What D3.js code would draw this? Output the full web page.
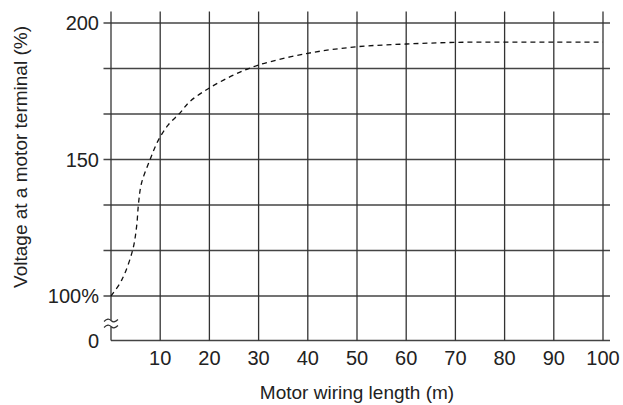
<!DOCTYPE html>
<html>
<head>
<meta charset="utf-8">
<script src="https://cdn.jsdelivr.net/npm/d3@7"></script>
<style>
  body { margin: 0; background: #fff; }
  text { font-family: "Liberation Sans", Arial, sans-serif; fill: #222; }
</style>
</head>
<body>
<div id="chart"></div>
<script>
// values
let lengths = [0, 2.2, 4.4, 5.2, 5.6, 6.2, 7.9, 9.6, 11.6, 14, 16, 20, 25, 30, 40, 50, 60, 70, 80, 90, 100];
let voltage = [100, 105.9, 116.8, 125.4, 134, 141.3, 149.8, 157, 162.6, 167, 171.2, 176.2, 181, 184.6, 188.9, 191.3, 192.3, 192.9, 193, 193, 193];

let xTicks = [10, 20, 30, 40, 50, 60, 70, 80, 90, 100];
let xGrid = [0, 10, 20, 30, 40, 50, 60, 70, 80, 90, 100];
let yGrid = [100, 116.67, 133.33, 150, 166.67, 183.33, 200];
let yLabels = [[0, "0"], [100, "100%"], [150, "150"], [200, "200"]];

let width = 623, height = 405;

let svg = d3.select("#chart")
  .append("svg")
  .attr("width", width)
  .attr("height", height);

let x = d3.scaleLinear().domain([0, 100]).range([111, 603]);
// broken axis: 0 sits just under the 100% line
let y = d3.scaleLinear().domain([0, 100, 200]).range([340.5, 296, 23]);

let grid = svg.append("g");

// horizontal grid, sticking out left as tick marks
grid.selectAll(".hline")
  .data(yGrid)
  .enter().append("line")
  .attr("x1", 103.5)
  .attr("x2", 610)
  .attr("y1", d => y(d))
  .attr("y2", d => y(d))
  .attr("stroke", "#444")
  .attr("stroke-width", 1.3);

// bottom line at 0
grid.append("line")
  .attr("x1", x(0))
  .attr("x2", 610)
  .attr("y1", y(0))
  .attr("y2", y(0))
  .attr("stroke", "#444")
  .attr("stroke-width", 1.3);

// vertical grid (skip the axis at 0, drawn with a break below)
grid.selectAll(".vline")
  .data(xGrid.filter(d => d > 0))
  .enter().append("line")
  .attr("x1", d => x(d))
  .attr("x2", d => x(d))
  .attr("y1", 11.5)
  .attr("y2", y(0))
  .attr("stroke", "#333")
  .attr("stroke-width", 1.3);

// y axis with a break
let ax = x(0);
grid.append("line")
  .attr("x1", ax).attr("x2", ax)
  .attr("y1", 11.5).attr("y2", 320)
  .attr("stroke", "#333").attr("stroke-width", 1.3);
grid.append("line")
  .attr("x1", ax).attr("x2", ax)
  .attr("y1", 327).attr("y2", y(0))
  .attr("stroke", "#333").attr("stroke-width", 1.3);

// the break sign
[320.5, 326.5].forEach(function(yy) {
  grid.append("path")
    .attr("d", "M104," + (yy + 1) + " C107," + (yy - 2) + " 109," + (yy - 2) + " 111," + yy +
               " S115," + (yy + 2) + " 118," + (yy - 1))
    .attr("fill", "none")
    .attr("stroke", "#333")
    .attr("stroke-width", 1.1);
});

// curve
let pts = lengths.map((d, i) => ({ len: d, v: voltage[i] }));
let line = d3.line()
  .x(d => x(d.len))
  .y(d => y(d.v))
  .curve(d3.curveCatmullRom.alpha(0.5));

svg.append("path")
  .datum(pts)
  .attr("d", line)
  .attr("fill", "none")
  .attr("stroke", "#111")
  .attr("stroke-width", 1.3)
  .attr("stroke-dasharray", "5,4");

// tick labels
svg.selectAll(".ylab")
  .data(yLabels)
  .enter().append("text")
  .attr("x", 99)
  .attr("y", d => y(d[0]))
  .attr("dy", "0.36em")
  .attr("text-anchor", "end")
  .attr("font-size", 20)
  .text(d => d[1]);

svg.selectAll(".xlab")
  .data(xTicks)
  .enter().append("text")
  .attr("x", d => x(d))
  .attr("y", 358)
  .attr("dy", "0.36em")
  .attr("text-anchor", "middle")
  .attr("font-size", 20)
  .text(d => d);

// axis titles
svg.append("text")
  .attr("x", 357)
  .attr("y", 392)
  .attr("dy", "0.36em")
  .attr("text-anchor", "middle")
  .attr("font-size", 19)
  .text("Motor wiring length (m)");

svg.append("text")
  .attr("transform", "translate(20,157) rotate(-90)")
  .attr("dy", "0.36em")
  .attr("text-anchor", "middle")
  .attr("font-size", 19)
  .text("Voltage at a motor terminal (%)");
</script>
</body>
</html>
